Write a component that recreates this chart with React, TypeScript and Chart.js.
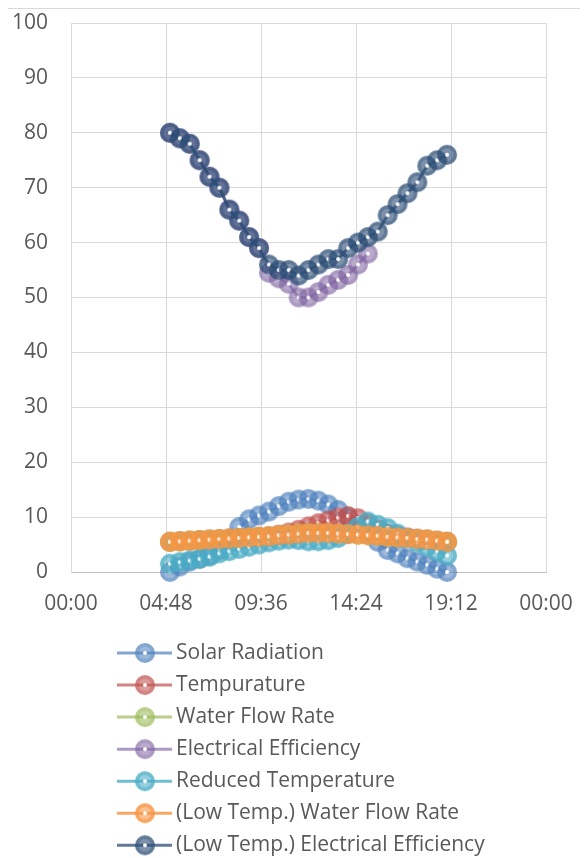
import React, { useEffect, useRef } from 'react';
import { Chart, registerables } from 'chart.js';

Chart.register(...registerables);

// ---- data ----
const times = [
  '05:00', '05:30', '06:00', '06:30', '07:00', '07:30', '08:00', '08:30', '09:00', '09:30',
  '10:00', '10:30', '11:00', '11:30', '12:00', '12:30', '13:00', '13:30', '14:00', '14:30',
  '15:00', '15:30', '16:00', '16:30', '17:00', '17:30', '18:00', '18:30', '19:00',
];

const solarRadiation = [0.0, 1.0, 1.9, 2.4, 2.9, 4.0, 6.0, 8.2, 9.6, 10.3, 11.0, 12.0, 12.8, 13.2, 13.3, 13.0, 12.3, 11.3, 10.0, 8.5, 7.0, 5.5, 4.0, 3.4, 2.5, 1.9, 1.3, 0.6, 0.0];
const temperature = [5.5, 5.6, 5.7, 5.8, 5.9, 6.0, 6.1, 6.2, 6.3, 6.4, 6.5, 6.8, 7.2, 7.7, 8.3, 8.9, 9.4, 9.9, 10.2, 9.8, 8.8, 7.8, 7.0, 6.6, 6.3, 6.1, 5.9, 5.7, 5.5];
const waterFlowRate = [5.5, 5.6, 5.7, 5.8, 5.9, 6.0, 6.1, 6.2, 6.3, 6.4, 6.5, 6.7, 6.8, 7.0, 7.1, 7.1, 7.1, 7.0, 6.9, 6.8, 6.7, 6.6, 6.4, 6.3, 6.2, 6.0, 5.9, 5.7, 5.5];
const electricalEfficiency = [80, 79, 78, 75, 72, 70, 66, 64, 61, 59, 54.5, 53.5, 52.5, 50, 50, 51, 52.3, 53.2, 54.1, 56, 58, null, null, null, null, null, null, null, null];
const reducedTemperature = [1.5, 1.8, 2.1, 2.4, 2.8, 3.4, 3.8, 4.2, 4.6, 5.0, 5.4, 5.7, 5.9, 5.8, 5.6, 5.6, 5.8, 6.2, 7.0, 8.2, 9.2, 8.6, 8.0, 7.0, 6.2, 5.4, 4.6, 3.8, 3.0];
const lowTempWaterFlowRate = [5.5, 5.6, 5.7, 5.8, 5.9, 6.0, 6.1, 6.2, 6.3, 6.4, 6.5, 6.7, 6.8, 7.0, 7.1, 7.1, 7.1, 7.0, 6.9, 6.8, 6.7, 6.6, 6.4, 6.3, 6.2, 6.0, 5.9, 5.7, 5.5];
const lowTempElectricalEfficiency = [80, 79, 78, 75, 72, 70, 66, 64, 61, 59, 56, 55, 55, 54, 55, 56, 57, 57, 59, 60, 61, 62, 65, 67, 69, 71, 74, 75, 76];

const seriesNames = [
  'Solar Radiation',
  'Tempurature',
  'Water Flow Rate',
  'Electrical Efficiency',
  'Reduced Temperature',
  '(Low Temp.) Water Flow Rate',
  '(Low Temp.) Electrical Efficiency',
];
const seriesValues = [
  solarRadiation,
  temperature,
  waterFlowRate,
  electricalEfficiency,
  reducedTemperature,
  lowTempWaterFlowRate,
  lowTempElectricalEfficiency,
];
const seriesRgb = ['79,129,189', '192,80,77', '155,187,89', '128,100,162', '75,172,198', '247,150,70', '44,77,117'];
const outerAlpha = [0.7, 0.7, 0.7, 0.65, 0.8, 0.85, 0.75];
const innerAlpha = [0.45, 0.45, 0.45, 0.42, 0.5, 0.55, 0.52];

const yMin = 0;
const yMax = 100;
const yStep = 10;
const xMin = 0; // 00:00
const xMax = 1; // 00:00 next day
const xStep = 0.2; // 04:48

const FONT = '"Open Sans", "Noto Sans", sans-serif';
const FONT_SIZE = 21;
const TEXT_COLOR = '#595959';

function toDayFraction(t: string) {
  const [h, m] = t.split(':').map(Number);
  return (h * 60 + m) / 1440;
}

function formatTime(v: number) {
  const mins = Math.round(v * 1440) % 1440;
  const h = Math.floor(mins / 60);
  const m = mins % 60;
  return String(h).padStart(2, '0') + ':' + String(m).padStart(2, '0');
}

function makeMarker(rgb: string, oa: number, ia: number) {
  const c = document.createElement('canvas');
  c.width = 22;
  c.height = 22;
  const g = c.getContext('2d')!;
  g.fillStyle = `rgba(${rgb},${oa})`;
  g.beginPath();
  g.arc(11, 11, 10, 0, Math.PI * 2);
  g.fill();
  g.globalCompositeOperation = 'destination-out';
  g.beginPath();
  g.arc(11, 11, 6, 0, Math.PI * 2);
  g.fill();
  g.globalCompositeOperation = 'source-over';
  g.fillStyle = `rgba(${rgb},${ia})`;
  g.beginPath();
  g.arc(11, 11, 6, 0, Math.PI * 2);
  g.fill();
  g.fillStyle = '#ffffff';
  g.beginPath();
  g.arc(11, 11, 2, 0, Math.PI * 2);
  g.fill();
  return c;
}

const LEGEND_Y0 = 644;
const LEGEND_ROW = 32.05;
const LEGEND_LINE_X1 = 109;
const LEGEND_LINE_X2 = 164;
const LEGEND_MARK_X = 137;
const LEGEND_TEXT_X = 168;

function zeroPadding(scale: any) {
  scale.paddingTop = 0;
  scale.paddingBottom = 0;
  scale.paddingLeft = 0;
  scale.paddingRight = 0;
}

export default function App() {
  const ref = useRef<HTMLCanvasElement | null>(null);

  useEffect(() => {
    document.documentElement.style.overflow = 'hidden';
    const canvas = ref.current;
    if (!canvas) return;
    const markers = seriesRgb.map((rgb, i) => makeMarker(rgb, outerAlpha[i], innerAlpha[i]));

    const datasets = seriesNames.map((name, i) => ({
      label: name,
      data: times.map((t, j) => ({ x: toDayFraction(t), y: seriesValues[i][j] })),
      borderColor: `rgba(${seriesRgb[i]},${outerAlpha[i]})`,
      backgroundColor: `rgba(${seriesRgb[i]},${innerAlpha[i]})`,
      borderWidth: 3,
      pointStyle: markers[i] as any,
      pointRadius: 10,
      pointHoverRadius: 10,
      tension: 0,
      spanGaps: false,
      clip: false as any,
      order: seriesNames.length - 1 - i,
    }));

    const legendPlugin = {
      id: 'verticalLegend',
      afterDraw(chart: any) {
        const ctx = chart.ctx as CanvasRenderingContext2D;
        ctx.save();
        chart.data.datasets.forEach((ds: any, i: number) => {
          const y = LEGEND_Y0 + i * LEGEND_ROW;
          ctx.strokeStyle = ds.borderColor;
          ctx.lineWidth = 3;
          ctx.beginPath();
          ctx.moveTo(LEGEND_LINE_X1, y);
          ctx.lineTo(LEGEND_LINE_X2, y);
          ctx.stroke();
          const mk = markers[i];
          ctx.drawImage(mk, LEGEND_MARK_X - mk.width / 2, y - mk.height / 2);
          ctx.fillStyle = TEXT_COLOR;
          ctx.font = `${FONT_SIZE}px ${FONT}`;
          ctx.textBaseline = 'middle';
          ctx.textAlign = 'left';
          ctx.fillText(ds.label, LEGEND_TEXT_X, y);
        });
        ctx.restore();
      },
    };

    const chart = new Chart(canvas, {
      type: 'line',
      data: { datasets },
      options: {
        animation: false,
        responsive: false,
        events: [],
        layout: { padding: { left: 0, right: 42, top: 14, bottom: 236 } },
        plugins: {
          legend: { display: false },
          tooltip: { enabled: false },
          title: { display: false },
        },
        scales: {
          x: {
            type: 'linear',
            min: xMin,
            max: xMax,
            ticks: {
              stepSize: xStep,
              padding: 19,
              maxRotation: 0,
              autoSkip: false,
              color: TEXT_COLOR,
              font: { family: FONT, size: FONT_SIZE },
              callback: (v: any) => formatTime(Number(v)),
            },
            grid: { color: '#d9d9d9', lineWidth: 1, drawTicks: false },
            border: { color: '#bfbfbf', width: 1 },
            afterFit: (scale: any) => {
              scale.height = 50;
              zeroPadding(scale);
            },
          },
          y: {
            type: 'linear',
            min: yMin,
            max: yMax,
            ticks: {
              stepSize: yStep,
              padding: 23,
              color: TEXT_COLOR,
              font: { family: FONT, size: FONT_SIZE },
            },
            grid: { color: '#d9d9d9', lineWidth: 1, drawTicks: false },
            border: { color: '#d9d9d9', width: 1 },
            afterFit: (scale: any) => {
              scale.width = 63;
              zeroPadding(scale);
            },
          },
        },
      } as any,
      plugins: [legendPlugin],
    });

    return () => {
      chart.destroy();
    };
  }, []);

  return (
    <div
      style={{
        marginLeft: -1,
        width: 580,
        height: 849,
        overflow: 'hidden',
        background: '#ffffff',
        borderLeft: '1px solid #d9d9d9',
        borderTop: '1px solid #d9d9d9',
        boxSizing: 'content-box',
      }}
    >
      <canvas ref={ref} width={580} height={849} style={{ display: 'block' }} />
    </div>
  );
}
